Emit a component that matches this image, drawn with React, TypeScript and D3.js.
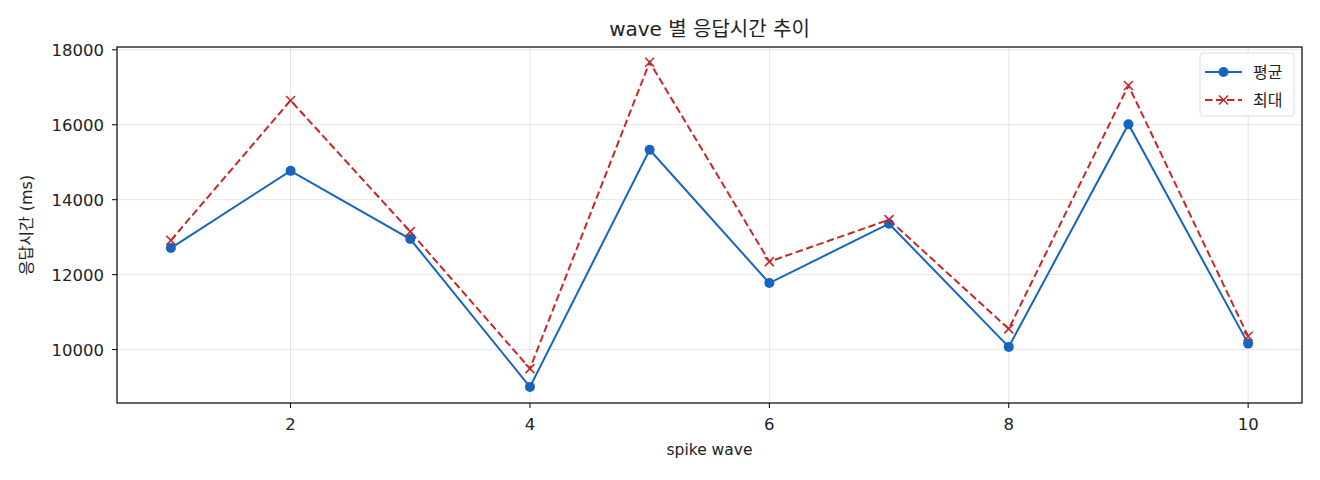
import React from 'react';
import * as d3 from 'd3';

const waves = [1, 2, 3, 4, 5, 6, 7, 8, 9, 10];
const avgMs = [12710, 14770, 12950, 9005, 15330, 11775, 13360, 10072, 16015, 10160];
const maxMs = [12915, 16648, 13147, 9493, 17669, 12347, 13467, 10552, 17048, 10355];
const xTicks = [2, 4, 6, 8, 10];
const yTicks = [10000, 12000, 14000, 16000, 18000];

const width = 1320;
const height = 480;
const margin = { top: 47, right: 18, bottom: 77, left: 117 };
const BLUE = '#1565c0';
const RED = '#c62828';
const FONT = '"DejaVu Sans", "Noto Sans CJK KR", sans-serif';

const App: React.FC = () => {
  const innerW = width - margin.left - margin.right;
  const innerH = height - margin.top - margin.bottom;

  const x = d3.scaleLinear().domain([0.55, 10.45]).range([0, innerW]);
  const y = d3.scaleLinear().domain([8575, 18075]).range([innerH, 0]);

  const line = d3.line<number>()
    .x((_, i) => x(waves[i]))
    .y(d => y(d));

  const cross = (cx: number, cy: number, s: number, key: string | number) => (
    <g key={key}>
      <line x1={cx - s} y1={cy - s} x2={cx + s} y2={cy + s} stroke={RED} strokeWidth={1.6} />
      <line x1={cx - s} y1={cy + s} x2={cx + s} y2={cy - s} stroke={RED} strokeWidth={1.6} />
    </g>
  );

  return (
    <svg width={width} height={height} style={{ position: 'absolute', left: 0, top: 0, background: '#fff' }} fontFamily={FONT}>
      <text x={margin.left + innerW / 2} y={36} textAnchor="middle" fontSize={20} fill="#222">wave 별 응답시간 추이</text>
      <g transform={`translate(${margin.left},${margin.top})`}>
        {/* grid */}
        {xTicks.map(t => (
          <line key={'gx' + t} x1={x(t)} x2={x(t)} y1={0} y2={innerH} stroke="#000" strokeOpacity={0.1} strokeWidth={1} />
        ))}
        {yTicks.map(t => (
          <line key={'gy' + t} x1={0} x2={innerW} y1={y(t)} y2={y(t)} stroke="#000" strokeOpacity={0.1} strokeWidth={1} />
        ))}

        {/* series */}
        <path d={line(maxMs) || ''} fill="none" stroke={RED} strokeWidth={2} strokeDasharray="7.5,3.5" />
        <path d={line(avgMs) || ''} fill="none" stroke={BLUE} strokeWidth={2} />
        {avgMs.map((v, i) => (
          <circle key={'c' + i} cx={x(waves[i])} cy={y(v)} r={5} fill={BLUE} />
        ))}
        {maxMs.map((v, i) => cross(x(waves[i]), y(v), 4.5, 'x' + i))}

        {/* frame */}
        <rect x={0} y={0} width={innerW} height={innerH} fill="none" stroke="#000" strokeWidth={1.2} />

        {/* x axis */}
        {xTicks.map(t => (
          <g key={'tx' + t} transform={`translate(${x(t)},${innerH})`}>
            <line y1={0} y2={5} stroke="#000" strokeWidth={1} />
            <text y={27} textAnchor="middle" fontSize={16.5} fill="#222">{t}</text>
          </g>
        ))}
        {/* y axis */}
        {yTicks.map(t => (
          <g key={'ty' + t} transform={`translate(0,${y(t)})`}>
            <line x1={-5} x2={0} stroke="#000" strokeWidth={1} />
            <text x={-13} dy="0.36em" textAnchor="end" fontSize={16.5} fill="#222">{t}</text>
          </g>
        ))}

        {/* legend */}
        <g transform={`translate(${innerW - 102},6)`}>
          <rect x={0} y={0} width={94} height={63} rx={3} fill="#fff" fillOpacity={0.85} stroke="#ddd" />
          <line x1={5} x2={42} y1={19} y2={19} stroke={BLUE} strokeWidth={2} />
          <circle cx={23.5} cy={19} r={5} fill={BLUE} />
          <text x={53} y={19} dy="0.35em" fontSize={16} fill="#222">평균</text>
          <line x1={5} x2={42} y1={47} y2={47} stroke={RED} strokeWidth={2} strokeDasharray="7.5,3.5" />
          {cross(23.5, 47, 4.5, 'lg')}
          <text x={53} y={47} dy="0.35em" fontSize={16} fill="#222">최대</text>
        </g>
      </g>
      <text x={margin.left + innerW / 2} y={455} textAnchor="middle" fontSize={15.5} fill="#222">spike wave</text>
      <text transform={`translate(32,${margin.top + innerH / 2}) rotate(-90)`} textAnchor="middle" fontSize={16} fill="#222">응답시간 (ms)</text>
    </svg>
  );
};

export default App;
